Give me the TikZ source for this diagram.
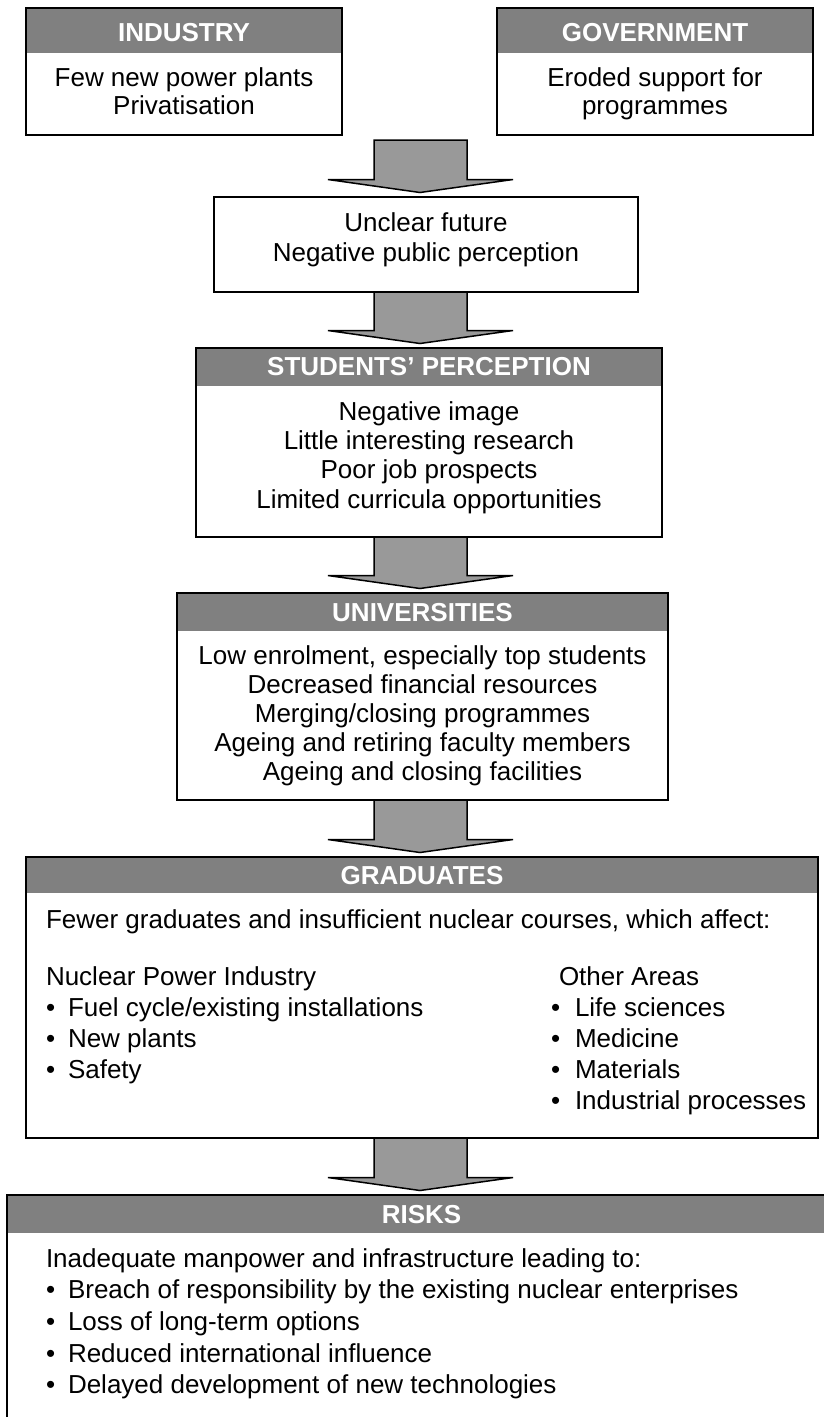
\documentclass[tikz,border=0pt]{standalone}
\usepackage{fontspec}
\setmainfont{Liberation Sans}
\usetikzlibrary{calc}
\definecolor{hdrgray}{RGB}{128,128,128}
\definecolor{arrowgray}{RGB}{153,153,153}
\tikzset{
  box/.style={draw=black, line width=1.8pt, rectangle, outer sep=0pt, inner sep=0pt, fill=white},
  hdrbox/.style={box, path picture={\fill[hdrgray] (path picture bounding box.north west) rectangle ([yshift=-#1]path picture bounding box.north east);}},
  txt/.style={font=\fontsize{26}{31}\selectfont, anchor=base, inner sep=0pt, outer sep=0pt},
  htxt/.style={txt, text=white, font=\fontsize{26}{31}\selectfont\bfseries},
  ltxt/.style={txt, anchor=base west},
  bigarrow/.style={draw=black, fill=arrowgray, line width=1.5pt, line join=miter}
}
\newcommand{\blockarr}[2]{%
  \path[bigarrow] let \p1=(#1), \p2=(#2) in
    (374pt,\y1) -- (467pt,\y1) -- (467pt,\y2+17.5pt) -- (513pt,\y2+17.5pt)
    -- (420pt,\y2+4.5pt) -- (328pt,\y2+17.5pt) -- (374pt,\y2+17.5pt) -- cycle;}
\begin{document}
\begin{tikzpicture}[x=1pt,y=-1pt]
\useasboundingbox (0,0) rectangle (824,1417);
\clip (0,0) rectangle (824,1417);
\fill[white] (0,0) rectangle (824,1417);

% boxes
\node[hdrbox=45pt, minimum width=316pt, minimum height=127pt] (ind) at (184,71.5) {};
\node[hdrbox=45pt, minimum width=316pt, minimum height=127pt] (gov) at (655,71.5) {};
\node[box, minimum width=424pt, minimum height=95pt] (unc) at (426,244.5) {};
\node[hdrbox=38pt, minimum width=466pt, minimum height=189pt] (stu) at (429,442.5) {};
\node[hdrbox=38pt, minimum width=491pt, minimum height=207pt] (uni) at (422.5,696.5) {};
\node[hdrbox=36pt, minimum width=792pt, minimum height=281pt] (grad) at (422,997.5) {};
\node[hdrbox=38pt, minimum width=830pt, minimum height=240pt, anchor=north west] (risks) at (7,1195) {};

% arrows
\coordinate (a1top) at (420,140);
\blockarr{a1top}{unc.north}
\blockarr{unc.south}{stu.north}
\blockarr{stu.south}{uni.north}
\blockarr{uni.south}{grad.north}
\blockarr{grad.south}{risks.north}

% industry
\node[htxt] (ind-h) at (184,41) {INDUSTRY};
\node[txt] (ind-1) at (184,86) {Few new power plants};
\node[txt] (ind-2) at (184,114) {Privatisation};
% government
\node[htxt] (gov-h) at (655,41) {GOVERNMENT};
\node[txt] (gov-1) at (655,86) {Eroded support for};
\node[txt] (gov-2) at (655,114) {programmes};
% unclear
\node[txt] (unc-1) at (426,231) {Unclear future};
\node[txt] (unc-2) at (426,261) {Negative public perception};
% students
\node[htxt] (stu-h) at (429,375) {STUDENTS’ PERCEPTION};
\node[txt] (stu-1) at (429,420) {Negative image};
\node[txt] (stu-2) at (429,449) {Little interesting research};
\node[txt] (stu-3) at (429,478) {Poor job prospects};
\node[txt] (stu-4) at (429,508) {Limited curricula opportunities};
% universities
\node[htxt] (uni-h) at (422.5,621) {UNIVERSITIES};
\node[txt] (uni-1) at (422.5,664) {Low enrolment, especially top students};
\node[txt] (uni-2) at (422.5,693) {Decreased financial resources};
\node[txt] (uni-3) at (422.5,722) {Merging/closing programmes};
\node[txt] (uni-4) at (422.5,751) {Ageing and retiring faculty members};
\node[txt] (uni-5) at (422.5,780) {Ageing and closing facilities};
% graduates
\node[htxt] (grad-h) at (422,884) {GRADUATES};
\node[ltxt] (grad-0) at (46,928) {Fewer graduates and insufficient nuclear courses, which affect:};
\node[ltxt] (grad-l0) at (46,985) {Nuclear Power Industry};
\node[ltxt] (grad-lb1) at (46,1016) {•};
\node[ltxt] (grad-l1) at (68,1016) {Fuel cycle/existing installations};
\node[ltxt] (grad-lb2) at (46,1047) {•};
\node[ltxt] (grad-l2) at (68,1047) {New plants};
\node[ltxt] (grad-lb3) at (46,1078) {•};
\node[ltxt] (grad-l3) at (68,1078) {Safety};
\node[ltxt] (grad-r0) at (559,985) {Other Areas};
\node[ltxt] (grad-rb1) at (551,1016) {•};
\node[ltxt] (grad-r1) at (575,1016) {Life sciences};
\node[ltxt] (grad-rb2) at (551,1047) {•};
\node[ltxt] (grad-r2) at (575,1047) {Medicine};
\node[ltxt] (grad-rb3) at (551,1078) {•};
\node[ltxt] (grad-r3) at (575,1078) {Materials};
\node[ltxt] (grad-rb4) at (551,1109) {•};
\node[ltxt] (grad-r4) at (575,1109) {Industrial processes};
% risks
\node[htxt] (risks-h) at (421.5,1223) {RISKS};
\node[ltxt] (risks-0) at (46,1267) {Inadequate manpower and infrastructure leading to:};
\node[ltxt] (risks-b1) at (46,1298) {•};
\node[ltxt] (risks-1) at (68,1298) {Breach of responsibility by the existing nuclear enterprises};
\node[ltxt] (risks-b2) at (46,1330) {•};
\node[ltxt] (risks-2) at (68,1330) {Loss of long-term options};
\node[ltxt] (risks-b3) at (46,1362) {•};
\node[ltxt] (risks-3) at (68,1362) {Reduced international influence};
\node[ltxt] (risks-b4) at (46,1393) {•};
\node[ltxt] (risks-4) at (68,1393) {Delayed development of new technologies};
\end{tikzpicture}
\end{document}
